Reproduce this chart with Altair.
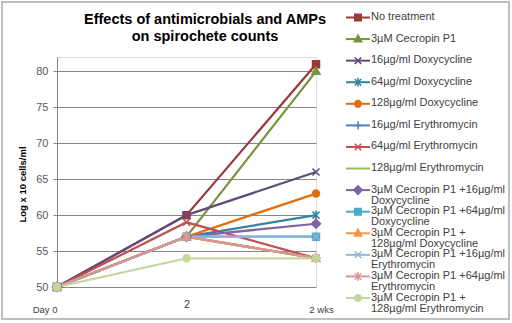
import altair as alt
import pandas as pd

title_lines = ["Effects of antimicrobials and AMPs", "on spirochete counts"]
series = [
    "No treatment",
    "3µM Cecropin P1",
    "16µg/ml Doxycycline",
    "64µg/ml Doxycycline",
    "128µg/ml Doxycycline",
    "16µg/ml Erythromycin",
    "64µg/ml Erythromycin",
    "128µg/ml Erythromycin",
    "3µM Cecropin P1 +16µg/ml\nDoxycycline",
    "3µM Cecropin P1 +64µg/ml\nDoxycycline",
    "3µM Cecropin P1 +\n128µg/ml Doxycycline",
    "3µM Cecropin P1 +16µg/ml\nErythromycin",
    "3µM Cecropin P1 +64µg/ml\nErythromycin",
    "3µM Cecropin P1 +\n128µg/ml Erythromycin",
]
days = ["Day 0", "2", "2 wks"]
day0 = [50, 50, 50, 50, 50, 50, 50, 50, 50, 50, 50, 50, 50, 50]
day2 = [60, 57, 60, 57, 57, 57, 59, 57, 57, 57, 57, 57, 57, 54]
wk2 = [81, 80, 66, 60, 63, 54, 54, 54, 58.8, 57, 54, 57, 54, 54]

colors = ["#983A37", "#77933C", "#604A7B", "#31859C", "#E46C0A", "#4F81BD",
          "#C0504D", "#9BBB59", "#8064A2", "#4BACC6", "#F79646", "#95B3D7",
          "#D99694", "#C3D69B"]

SQ = "M-1,-1H1V1H-1Z"
TRI = "M0,-1.2L1.15,0.85H-1.15Z"
XX = "M-1,-1L1,1M-1,1L1,-1"
STAR = "M-1,-1L1,1M-1,1L1,-1M0,-1.35V1.35"
CIR = "M-1,0A1,1,0,1,0,1,0A1,1,0,1,0,-1,0Z"
PLUS = "M-1.3,0H1.3M0,-1.3V1.3"
DIA = "M0,-1.3L1.3,0L0,1.3L-1.3,0Z"
NONE = "M0,0"
markers = [SQ, TRI, XX, STAR, CIR, PLUS, XX, NONE, DIA, SQ, TRI, XX, STAR, CIR]

rows = []
for i, s in enumerate(series):
    for d, v in zip(days, [day0[i], day2[i], wk2[i]]):
        rows.append({"series": s, "day": d, "value": v, "order": i})
df = pd.DataFrame(rows)
leg_df = pd.DataFrame({"series": series, "idx": list(range(len(series)))})
title_df = pd.DataFrame({"t": ["\n".join(title_lines)]})

FONT = "Liberation Sans"

x_enc = alt.X("day:N", sort=days, scale=alt.Scale(type="point", padding=0),
              axis=alt.Axis(title=None, ticks=False, domain=False, labelAngle=0,
                            labelFont=FONT, labelColor="#404040",
                            labelFontSize={"condition": {"test": "datum.value == '2'", "value": 11}, "value": 9.5},
                            labelAlign={"condition": {"test": "datum.value == 'Day 0'", "value": "right"}, "value": "center"},
                            labelOffset={"condition": {"test": "datum.value == '2 wks'", "value": 5}, "value": 0},
                            labelPadding={"condition": {"test": "datum.value == '2'", "value": 11}, "value": 17},
                            labelBaseline="top"))
y_scale = alt.Scale(domain=[50, 82], nice=False, zero=False)
y_axis = alt.Axis(title="Log x 10  cells/ml", values=[50, 55, 60, 65, 70, 75, 80],
                  titleFont=FONT, titleFontSize=9.5, titleFontWeight="bold",
                  titleColor="#000000", titleAngle=-90, titleX=-35, titleY=127,
                  titleAlign="center", titleBaseline="middle",
                  labelFont=FONT, labelFontSize=11, labelColor="#595959",
                  labelPadding=5, tickSize=4, tickColor="#868686",
                  domainColor="#868686", gridColor="#868686", gridWidth=1)
y_enc = alt.Y("value:Q", scale=y_scale, axis=y_axis)

color_scale = alt.Scale(domain=series, range=colors)
shape_scale = alt.Scale(domain=series, range=markers)

lines = alt.Chart(df).mark_line(strokeWidth=2.25).encode(
    x=x_enc, y=y_enc,
    stroke=alt.Stroke("series:N", scale=color_scale, legend=None),
    order="order:Q",
)

points = alt.Chart(df).mark_point(filled=True, size=49, strokeWidth=1.5, opacity=1).encode(
    x=x_enc, y=y_enc,
    fill=alt.Fill("series:N", scale=color_scale, legend=None),
    stroke=alt.Stroke("series:N", scale=color_scale, legend=None),
    shape=alt.Shape("series:N", scale=shape_scale, legend=None),
)

plot = alt.layer(lines, points)

y_leg = alt.Y("idx:O", scale=alt.Scale(type="point", domain=list(range(len(series))),
                                       range=[-39.5, 241], padding=0), axis=None)

leg_rule = alt.Chart(leg_df).mark_rule(strokeWidth=2).encode(
    x=alt.value(289), x2=alt.value(313), y=y_leg,
    stroke=alt.Stroke("series:N", scale=color_scale, legend=None))
leg_pts = alt.Chart(leg_df).mark_point(filled=True, size=42, strokeWidth=1.5, opacity=1).encode(
    x=alt.value(301), y=y_leg,
    fill=alt.Fill("series:N", scale=color_scale, legend=None),
    stroke=alt.Stroke("series:N", scale=color_scale, legend=None),
    shape=alt.Shape("series:N", scale=shape_scale, legend=None))
leg_txt = alt.Chart(leg_df).mark_text(align="left", baseline="top", dy=-6.5, lineBreak="\n",
                                      lineHeight=11, font=FONT, fontSize=11,
                                      color="#404040").encode(
    x=alt.value(314), y=y_leg, text="series:N")
legend = alt.layer(leg_rule, leg_pts, leg_txt)

title = alt.Chart(title_df).mark_text(align="center", baseline="top", lineBreak="\n",
                                      lineHeight=17, font=FONT, fontSize=14.5,
                                      fontWeight="bold", color="#000000").encode(
    x=alt.value(148), y=alt.value(-44), text="t:N")

frame = alt.Chart(pd.DataFrame({"a": [0]})).mark_rect(
    fill="transparent", stroke="#BFBFBF", strokeWidth=2, clip=False).encode(
    x=alt.value(-55), x2=alt.value(452), y=alt.value(-55), y2=alt.value(262))

chart = alt.layer(frame, title, plot, legend).resolve_scale(
    y="independent"
).properties(
    width=259, height=230,
    autosize=alt.AutoSizeParams(type="none"),
    padding={"left": 57, "top": 57, "right": 196, "bottom": 36},
).configure_view(stroke=None).configure(background="white")

chart.save("out.html", embed_options={"renderer": "svg", "actions": False})
